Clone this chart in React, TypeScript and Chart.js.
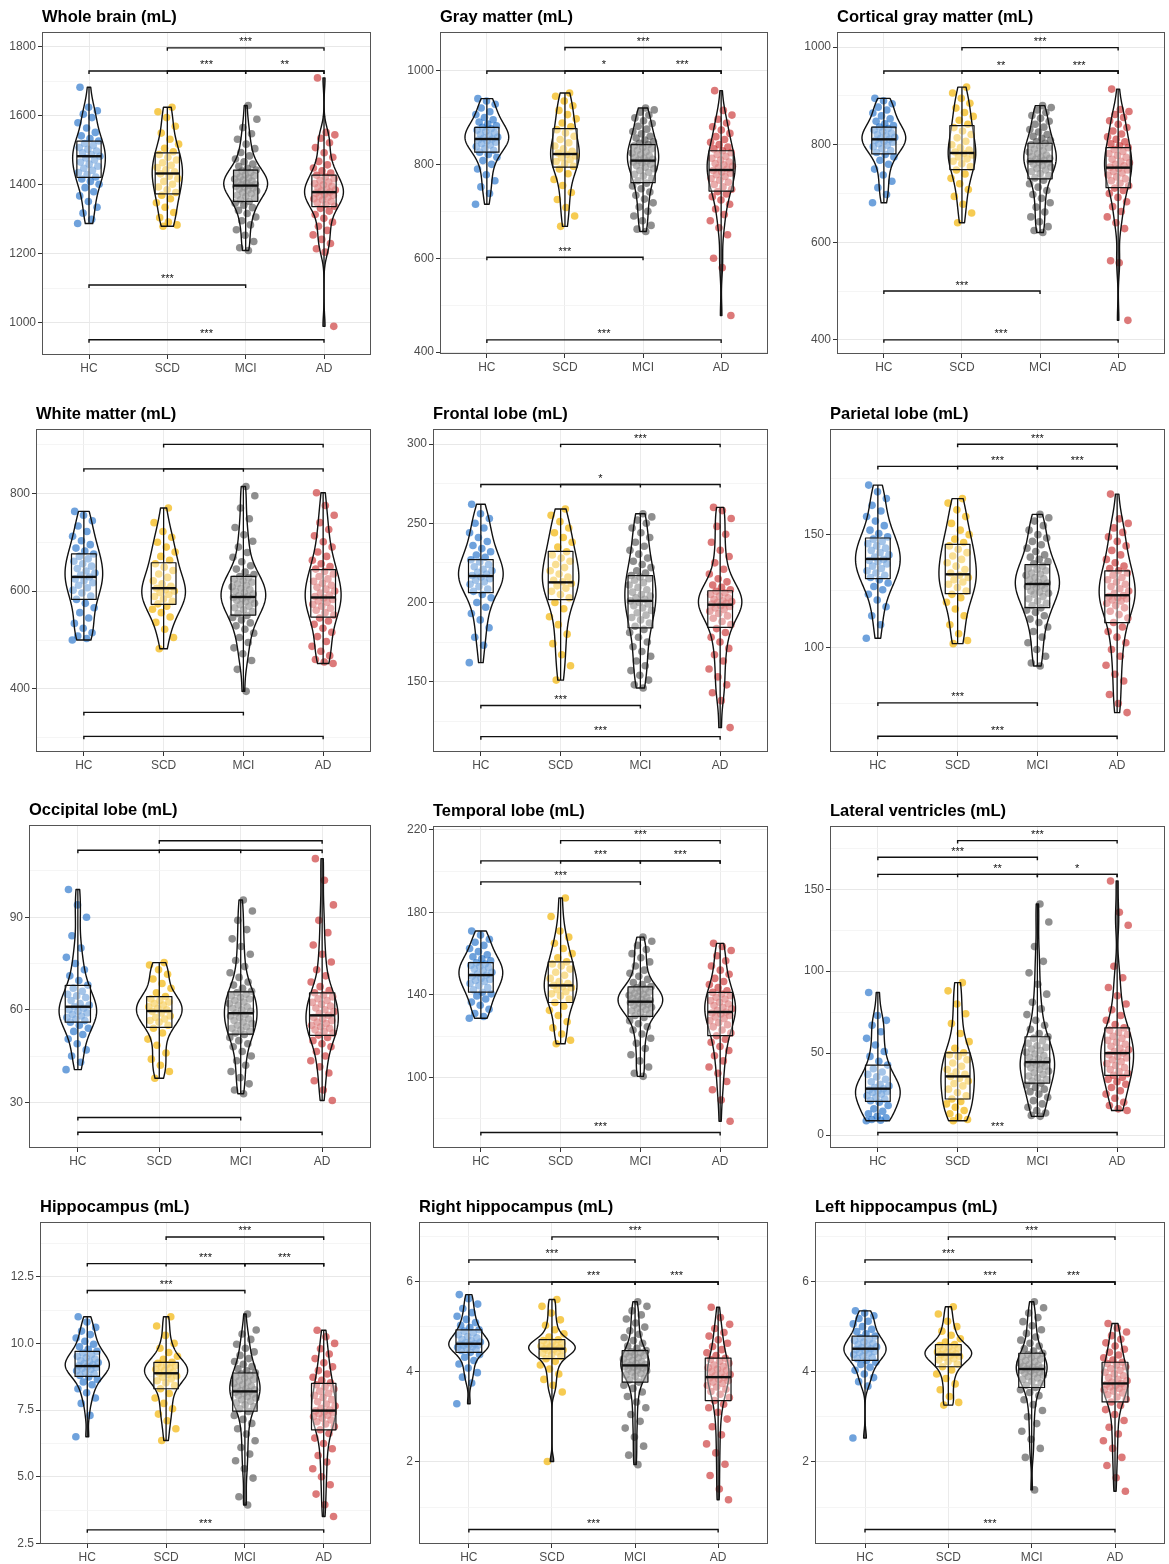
import React, { useEffect, useRef } from 'react';
import { Chart, registerables } from 'chart.js';

Chart.register(...registerables);

type Bracket = [number, number, number, string];

const groups = ['HC', 'SCD', 'MCI', 'AD'];
const groupColors = ['rgba(30,110,200,0.64)', 'rgba(242,178,0,0.68)', 'rgba(80,80,80,0.64)', 'rgba(200,45,45,0.64)'];

// ---------- Whole brain ----------
const wholeBrainValues = [
  [1288, 1300, 1318, 1335, 1352, 1368, 1380, 1392, 1402, 1410, 1417, 1423, 1430, 1436, 1442, 1448, 1454, 1460, 1466, 1472, 1478, 1483, 1488, 1493, 1498, 1503, 1508, 1514, 1520, 1527, 1534, 1542, 1552, 1565, 1580, 1595, 1605, 1615, 1625, 1683],
  [1280, 1284, 1292, 1305, 1320, 1335, 1348, 1360, 1370, 1378, 1386, 1394, 1402, 1410, 1418, 1425, 1432, 1438, 1444, 1450, 1457, 1464, 1472, 1480, 1488, 1496, 1506, 1518, 1532, 1550, 1570, 1595, 1612, 1625],
  [1210, 1218, 1236, 1254, 1270, 1284, 1296, 1307, 1317, 1326, 1334, 1341, 1347, 1352, 1357, 1362, 1366, 1370, 1374, 1378, 1382, 1385, 1388, 1391, 1394, 1396, 1398, 1400, 1402, 1405, 1408, 1411, 1414, 1417, 1420, 1423, 1426, 1429, 1432, 1436, 1440, 1443, 1448, 1454, 1460, 1467, 1475, 1484, 1494, 1505, 1518, 1532, 1548, 1566, 1590, 1630],
  [990, 1205, 1215, 1230, 1242, 1255, 1268, 1280, 1292, 1303, 1314, 1324, 1332, 1338, 1343, 1348, 1352, 1356, 1360, 1364, 1367, 1370, 1373, 1376, 1379, 1382, 1385, 1388, 1392, 1396, 1400, 1404, 1408, 1413, 1418, 1423, 1428, 1434, 1441, 1449, 1458, 1468, 1480, 1493, 1508, 1522, 1535, 1545, 1552, 1710],
];
const wholeBrainBoxes = [[1422, 1483, 1527], [1374, 1433, 1493], [1352, 1398, 1443], [1337, 1379, 1428]];
const wholeBrainBrackets: Bracket[] = [[2, 4, 1797, '***'], [1, 4, 1730, '***'], [3, 4, 1730, '**'], [2, 3, 1730, ''], [1, 3, 1110, '***'], [1, 4, 951, '***']];
const wholeBrainTicks = [1000, 1200, 1400, 1600, 1800];
const wholeBrainTickLabels = ['1000', '1200', '1400', '1600', '1800'];
const wholeBrainMinor = [1100, 1300, 1500, 1700];
const wholeBrainRange = [907, 1843];

// ---------- Gray matter ----------
const grayMatterValues = [
  [715, 738, 752, 765, 778, 790, 800, 808, 815, 821, 826, 830, 834, 838, 841, 844, 847, 850, 852, 854, 856, 858, 861, 864, 867, 870, 873, 876, 879, 882, 886, 890, 895, 900, 906, 912, 920, 928, 935, 940],
  [668, 690, 708, 725, 740, 755, 768, 780, 790, 796, 801, 806, 810, 814, 818, 821, 824, 828, 833, 839, 846, 853, 860, 867, 874, 880, 888, 897, 906, 915, 925, 935, 945, 952],
  [657, 662, 670, 680, 690, 700, 709, 718, 726, 734, 741, 748, 754, 760, 765, 770, 775, 779, 783, 787, 791, 794, 797, 800, 803, 805, 807, 809, 811, 813, 815, 818, 821, 824, 827, 830, 833, 836, 839, 842, 845, 848, 852, 856, 860, 865, 870, 875, 881, 887, 893, 899, 905, 911, 916, 920],
  [478, 580, 600, 650, 665, 680, 693, 705, 715, 724, 731, 737, 742, 747, 752, 757, 762, 766, 770, 774, 778, 781, 784, 787, 790, 793, 796, 799, 802, 805, 809, 813, 817, 821, 825, 829, 833, 837, 842, 847, 853, 859, 866, 873, 880, 888, 896, 905, 915, 957],
];
const grayMatterBoxes = [[826, 854, 879], [794, 822, 876], [761, 808, 842], [743, 788, 829]];
const grayMatterBrackets: Bracket[] = [[2, 4, 1049, '***'], [1, 4, 999, '*'], [3, 4, 999, '***'], [2, 3, 999, ''], [1, 3, 602, '***'], [1, 4, 426, '***']];
const grayMatterTicks = [400, 600, 800, 1000];
const grayMatterTickLabels = ['400', '600', '800', '1000'];
const grayMatterMinor = [500, 700, 900];
const grayMatterRange = [396, 1082];

// ---------- Cortical gray matter ----------
const corticalValues = [
  [681, 698, 712, 725, 738, 750, 760, 768, 775, 780, 784, 788, 792, 796, 799, 802, 805, 807, 809, 811, 813, 815, 818, 821, 824, 827, 830, 833, 836, 839, 843, 848, 853, 859, 865, 871, 877, 884, 890, 895],
  [640, 660, 678, 694, 708, 720, 731, 740, 748, 755, 761, 766, 771, 775, 779, 782, 785, 789, 794, 800, 807, 814, 821, 828, 835, 842, 850, 858, 866, 875, 885, 895, 906, 918],
  [620, 624, 632, 642, 652, 662, 672, 681, 690, 698, 706, 713, 720, 727, 732, 737, 741, 745, 748, 751, 754, 757, 760, 762, 764, 766, 768, 770, 772, 774, 776, 779, 782, 785, 788, 791, 794, 797, 800, 803, 806, 809, 813, 817, 821, 826, 831, 836, 842, 848, 854, 860, 866, 871, 876, 880],
  [440, 558, 562, 628, 640, 652, 663, 673, 683, 692, 700, 706, 711, 716, 721, 726, 730, 734, 738, 742, 745, 748, 751, 754, 757, 760, 763, 766, 770, 774, 778, 782, 786, 790, 794, 798, 802, 806, 811, 816, 822, 828, 835, 842, 849, 856, 862, 868, 872, 914],
];
const corticalBoxes = [[781, 811, 836], [749, 783, 839], [730, 766, 803], [712, 753, 794]];
const corticalBrackets: Bracket[] = [[2, 4, 999, '***'], [1, 4, 951, '**'], [3, 4, 951, '***'], [2, 3, 951, ''], [1, 3, 500, '***'], [1, 4, 400, '***']];
const corticalTicks = [400, 600, 800, 1000];
const corticalTickLabels = ['400', '600', '800', '1000'];
const corticalMinor = [500, 700, 900];
const corticalRange = [371, 1031];

// ---------- White matter ----------
const whiteMatterValues = [
  [500, 503, 508, 515, 524, 534, 545, 556, 566, 575, 583, 590, 596, 602, 607, 612, 617, 621, 625, 629, 633, 637, 641, 646, 651, 656, 661, 666, 671, 676, 682, 688, 695, 703, 712, 722, 733, 744, 755, 763],
  [482, 505, 522, 536, 547, 556, 563, 569, 574, 579, 584, 589, 593, 597, 600, 603, 606, 610, 615, 621, 628, 635, 642, 649, 656, 663, 671, 680, 690, 700, 710, 722, 740, 770],
  [395, 440, 458, 472, 484, 495, 505, 514, 522, 529, 535, 541, 546, 550, 554, 558, 562, 566, 569, 572, 575, 578, 581, 583, 585, 587, 589, 591, 594, 597, 600, 603, 606, 609, 612, 615, 618, 621, 624, 627, 630, 634, 639, 645, 652, 660, 669, 679, 690, 702, 715, 730, 748, 770, 795, 814],
  [452, 455, 460, 468, 477, 487, 497, 507, 516, 524, 532, 539, 545, 551, 556, 561, 565, 569, 573, 577, 580, 583, 586, 589, 592, 596, 600, 604, 608, 612, 616, 620, 625, 630, 635, 640, 645, 650, 656, 663, 671, 680, 690, 701, 713, 726, 740, 755, 775, 801],
];
const whiteMatterBoxes = [[583, 629, 676], [573, 606, 658], [551, 588, 630], [547, 587, 644]];
const whiteMatterBrackets: Bracket[] = [[2, 4, 900, ''], [1, 4, 850, ''], [2, 3, 850, ''], [1, 3, 352, ''], [1, 4, 303, '']];
const whiteMatterTicks = [400, 600, 800];
const whiteMatterTickLabels = ['400', '600', '800'];
const whiteMatterMinor = [300, 500, 700, 900];
const whiteMatterRange = [271, 931.5];

// ---------- Frontal lobe ----------
const frontalValues = [
  [162, 173, 178, 184, 189, 193, 197, 200, 203, 205, 207, 208.5, 210, 211.5, 213, 214, 215, 216, 217, 218, 219, 220, 221, 222.5, 224, 225.5, 227, 228.5, 230, 232, 234, 236, 238.5, 241, 244, 247, 250, 253, 256, 262],
  [151, 160, 167, 174, 180, 186, 191, 196, 200, 203, 205, 207, 209, 210.5, 212, 213, 214, 216, 218, 220, 222, 224, 226, 228, 230, 232, 235, 238, 241, 244, 247, 251, 255, 259],
  [146, 148, 151, 154, 157, 160, 163, 166, 169, 172, 175, 178, 181, 183, 185, 187, 189, 190.5, 192, 193.5, 195, 196.5, 198, 199, 200, 201, 202, 203, 204, 205, 206.5, 208, 209.5, 211, 212.5, 214, 215, 216, 217, 218.5, 220, 222, 224, 226, 228, 230.5, 233, 235.5, 238, 241, 244, 247, 250, 252, 254, 256],
  [121, 138, 143, 148, 153, 158, 163, 167, 171, 175, 178, 181, 183.5, 186, 188, 190, 191.5, 193, 194.5, 195.5, 196.5, 197.5, 198, 199, 199.5, 200, 200.5, 201, 202, 203, 204, 205, 206, 207, 208, 209.5, 211, 213, 215, 218, 221, 225, 229, 233, 238, 243, 248, 253, 258, 260],
];
const frontalBoxes = [[206.2, 216.7, 227], [201.8, 212.7, 232.3], [183.9, 201, 217], [184.3, 198.6, 207.4]];
const frontalBrackets: Bracket[] = [[2, 4, 299.8, '***'], [1, 4, 274.5, '*'], [2, 3, 274.5, ''], [1, 3, 135, '***'], [1, 4, 115.3, '***']];
const frontalTicks = [150, 200, 250, 300];
const frontalTickLabels = ['150', '200', '250', '300'];
const frontalMinor = [125, 175, 225, 275];
const frontalRange = [105.6, 309.5];

// ---------- Parietal lobe ----------
const parietalValues = [
  [104, 110, 114, 118, 121, 123.5, 125.5, 127, 128.5, 130, 131, 132, 133, 134, 135, 136, 137, 138, 138.5, 139, 140, 141, 142, 143, 144, 145, 146, 147, 148, 149, 150.5, 152, 154, 156, 158, 160.5, 163, 166, 169, 172],
  [101.6, 103, 106, 110, 114, 117, 120, 122, 123.5, 125, 126.5, 128, 129, 130, 131, 132, 133, 134.5, 136, 137.5, 139, 140.5, 142, 143.5, 145, 146.5, 148, 150, 152, 155, 158, 161, 164, 166],
  [91.7, 93, 96, 99, 102, 104.5, 107, 109, 111, 112.5, 114, 115.5, 116.5, 117.5, 118.5, 119.5, 120.5, 121.5, 122.5, 123.5, 124, 124.5, 125, 126, 126.5, 127, 127.5, 128, 128.5, 129, 130, 130.5, 131, 132, 132.5, 133, 134, 134.5, 135, 136, 137, 138, 139, 140, 141, 142.5, 144, 145.5, 147, 148.5, 150, 152, 154, 156, 157.5, 159],
  [71, 75, 79, 85, 88, 92, 96, 99, 102, 104.5, 107, 109, 111, 113, 114.5, 116, 117.5, 118.5, 119.5, 120.5, 121, 121.5, 122, 122.5, 123, 124, 125, 126, 127, 128, 129, 130, 131, 132, 133, 134, 135, 136, 137.5, 139, 141, 143, 145, 147, 149, 151, 153, 155, 157, 168],
];
const parietalBoxes = [[130.5, 139.2, 148.5], [123.8, 132.4, 145.7], [117.6, 128.1, 136.7], [110.9, 123.1, 133.9]];
const parietalBrackets: Bracket[] = [[2, 4, 190.1, '***'], [1, 4, 180.3, '***'], [3, 4, 180.3, '***'], [2, 3, 180.3, ''], [1, 3, 75.3, '***'], [1, 4, 60.5, '***']];
const parietalTicks = [100, 150];
const parietalTickLabels = ['100', '150'];
const parietalMinor = [75, 125, 175];
const parietalRange = [53.5, 196.9];

// ---------- Occipital lobe ----------
const occipitalValues = [
  [40.6, 43, 45, 47, 49, 50.5, 52, 53, 54, 55, 56, 56.5, 57, 57.5, 58, 58.5, 59, 59.5, 60, 60.5, 61, 61.5, 62, 63, 64, 64.5, 65, 66, 67, 68, 69.5, 71, 73, 75, 77, 80, 84, 90, 94, 99],
  [37.8, 40, 42, 44, 46, 48.5, 50.5, 52.5, 54, 55, 56, 56.5, 57, 57.5, 58, 59, 59.5, 60, 60.5, 61, 61.5, 62, 62.5, 63, 63.5, 64.3, 65.5, 67, 68.5, 70, 71.5, 73, 74.5, 75.3],
  [32.8, 34, 36, 38, 40, 42, 43.5, 45, 46.5, 48, 49, 50, 51, 52, 52.5, 53, 53.5, 54, 54.5, 55, 55.5, 56, 56.5, 57, 57.5, 58, 58.5, 59, 59.5, 60, 60.5, 61, 61.5, 62, 62.5, 63, 63.5, 64, 64.5, 65, 65.5, 66, 67, 68, 69, 70.5, 72, 74, 76, 78, 80.5, 83, 86, 89, 92, 95.6],
  [30.6, 34, 37, 39.5, 41.5, 43.5, 45, 46.5, 48, 49, 50, 51, 51.8, 52.5, 53, 53.5, 54, 54.5, 55, 55.5, 56, 56.5, 57, 57.5, 58.2, 58.8, 59.4, 60, 60.6, 61.2, 61.8, 62.4, 63, 63.6, 64.2, 64.8, 65.5, 66.2, 67.5, 69, 71, 73, 75.5, 78, 81, 85, 89, 94, 102, 109],
];
const occipitalBoxes = [[56, 61, 67.9], [54.3, 59.6, 64.3], [52.1, 58.9, 65.8], [51.7, 58.2, 65.5]];
const occipitalBrackets: Bracket[] = [[2, 4, 114.8, ''], [1, 4, 111.7, ''], [2, 3, 111.7, ''], [1, 3, 25.1, ''], [1, 4, 20.3, '']];
const occipitalTicks = [30, 60, 90];
const occipitalTickLabels = ['30', '60', '90'];
const occipitalMinor = [45, 75, 105];
const occipitalRange = [15.2, 119.9];

// ---------- Temporal lobe ----------
const temporalValues = [
  [128.7, 129.5, 131, 133, 135, 136.5, 138, 139.5, 140.5, 141.3, 142.5, 143.5, 144.5, 145.5, 146.5, 147, 147.5, 148, 149, 149.6, 150.2, 151, 151.8, 152.5, 153.2, 153.8, 154.4, 155, 155.6, 156.5, 157.5, 158.5, 159.5, 161, 162.5, 164, 165.5, 167, 169, 171],
  [116.3, 118, 121, 124, 127, 130, 132.5, 134.5, 136.3, 138, 139.5, 140.5, 141.5, 142.5, 143.5, 144, 144.6, 145.5, 146.5, 148, 149.5, 151, 152.5, 154, 155, 156, 158, 160, 162.5, 165, 168, 171, 178, 187],
  [100.5, 102, 105, 108, 111, 114, 116.5, 119, 121, 123, 124.5, 126, 127.5, 129, 130, 130.8, 131.5, 132.2, 132.8, 133.4, 134, 134.5, 135, 135.5, 136, 136.3, 136.6, 137, 137.4, 137.8, 138.3, 138.8, 139.3, 139.8, 140.3, 140.8, 141.3, 141.8, 142.3, 142.8, 143.4, 144, 145, 146, 147.5, 149, 150.5, 152, 154, 156, 158, 160, 162, 164, 166, 168],
  [78.7, 89, 94, 98, 102, 105, 108, 110.5, 113, 115, 117, 118.5, 120.2, 121.5, 123, 124.5, 125.5, 126.5, 127.5, 128.5, 129.3, 130, 130.7, 131.2, 131.7, 132.5, 133.3, 134, 134.8, 135.6, 136.4, 137.2, 138, 138.8, 139.6, 140.4, 141.2, 142, 143.5, 145, 146.5, 148, 150, 152, 154, 156.5, 159, 161.5, 163.5, 165],
];
const temporalBoxes = [[141.3, 149.6, 155.6], [136.3, 144.6, 156], [129.6, 136.7, 143.9], [120.2, 131.7, 141.2]];
const temporalBrackets: Bracket[] = [[2, 4, 214.8, '***'], [1, 4, 205, '***'], [3, 4, 205, '***'], [2, 3, 205, ''], [1, 3, 194.8, '***'], [1, 4, 73.3, '***']];
const temporalTicks = [100, 140, 180, 220];
const temporalTickLabels = ['100', '140', '180', '220'];
const temporalMinor = [80, 120, 160, 200];
const temporalRange = [65.75, 221.9];

// ---------- Lateral ventricles ----------
const ventriclesValues = [
  [8.7, 9, 9.5, 10.5, 11.5, 13, 14.5, 16, 18, 20, 21, 22, 23, 24, 25, 26, 26.5, 27, 27.5, 28.3, 29, 30, 31, 32.5, 34, 35.5, 37, 38.5, 40.5, 42.7, 45, 48, 51, 55, 59, 63, 67, 70, 73, 87],
  [8.7, 9.5, 11, 13, 15, 17, 19, 20.5, 22, 24, 26, 28, 30, 31.5, 33, 34.5, 35.8, 37, 38.5, 40, 42, 44, 46, 48, 49, 50.2, 53, 57, 62, 68, 74, 80, 88, 93],
  [11.4, 12, 13.5, 15, 17, 19, 21, 23, 25, 26.5, 28, 29, 30.5, 31.7, 33, 34, 35, 36, 37, 38, 39, 40, 41, 41.8, 42.6, 43.3, 44, 44.5, 45.5, 46.5, 47.5, 48.5, 49.5, 50.5, 51.5, 52.5, 53.5, 54.5, 56, 57.5, 59, 60, 62, 64.5, 67, 70, 73.5, 77, 81, 86, 92, 99, 106, 115, 130, 141],
  [15, 16, 18, 20, 22.5, 25, 27, 29, 31, 32.5, 34, 35.2, 36.4, 37.5, 38.8, 40, 41.2, 42.4, 43.6, 44.8, 46, 47, 48, 49, 50, 51, 52, 53, 54.2, 55.4, 56.6, 57.8, 59, 60.2, 61.4, 62.6, 64, 65.4, 67.5, 70, 73, 76.5, 80, 85, 90, 96, 103, 128, 136, 155],
];
const ventriclesBoxes = [[20.5, 28.3, 42.7], [22, 35.8, 50.2], [31.7, 44.5, 60], [36.4, 50, 65.4]];
const ventriclesBrackets: Bracket[] = [[2, 4, 179.7, '***'], [1, 3, 169.5, '***'], [1, 4, 159.1, '**'], [3, 4, 159.1, '*'], [2, 3, 159.1, ''], [1, 4, 1.6, '***']];
const ventriclesTicks = [0, 50, 100, 150];
const ventriclesTickLabels = ['0', '50', '100', '150'];
const ventriclesMinor = [25, 75, 125, 175];
const ventriclesRange = [-7.9, 188.6];

// ---------- Hippocampus ----------
const hippoValues = [
  [6.5, 7.3, 7.75, 7.95, 8.15, 8.3, 8.45, 8.55, 8.65, 8.74, 8.8, 8.86, 8.92, 8.97, 9.02, 9.06, 9.1, 9.13, 9.16, 9.2, 9.24, 9.28, 9.32, 9.36, 9.41, 9.46, 9.52, 9.58, 9.64, 9.7, 9.78, 9.87, 9.97, 10.08, 10.2, 10.33, 10.46, 10.6, 10.8, 11.0],
  [6.36, 6.8, 7.1, 7.35, 7.55, 7.75, 7.95, 8.12, 8.3, 8.42, 8.52, 8.6, 8.67, 8.73, 8.78, 8.83, 8.88, 8.93, 8.98, 9.03, 9.08, 9.12, 9.16, 9.2, 9.25, 9.29, 9.4, 9.52, 9.66, 9.82, 10.0, 10.3, 10.65, 11.0],
  [3.94, 4.25, 4.95, 5.3, 5.6, 5.85, 6.1, 6.35, 6.6, 6.8, 7.0, 7.15, 7.3, 7.45, 7.55, 7.63, 7.7, 7.77, 7.83, 7.89, 7.95, 8.0, 8.05, 8.09, 8.13, 8.16, 8.19, 8.22, 8.26, 8.3, 8.35, 8.4, 8.45, 8.5, 8.55, 8.6, 8.65, 8.7, 8.75, 8.8, 8.85, 8.9, 8.97, 9.05, 9.13, 9.22, 9.32, 9.43, 9.55, 9.68, 9.82, 9.97, 10.15, 10.35, 10.5, 11.1],
  [3.51, 3.95, 4.35, 4.7, 5.0, 5.3, 5.55, 5.8, 6.05, 6.25, 6.45, 6.62, 6.76, 6.88, 6.98, 7.06, 7.13, 7.2, 7.26, 7.31, 7.36, 7.4, 7.44, 7.47, 7.5, 7.57, 7.65, 7.73, 7.81, 7.89, 7.97, 8.05, 8.13, 8.21, 8.29, 8.37, 8.45, 8.52, 8.62, 8.73, 8.85, 8.98, 9.12, 9.27, 9.43, 9.6, 9.8, 10.0, 10.25, 10.49],
];
const hippoBoxes = [[8.76, 9.15, 9.7], [8.3, 8.88, 9.29], [7.46, 8.2, 8.89], [6.76, 7.48, 8.5]];
const hippoBrackets: Bracket[] = [[2, 4, 13.99, '***'], [1, 4, 12.99, '***'], [3, 4, 12.99, '***'], [2, 3, 12.99, ''], [1, 3, 11.98, '***'], [1, 4, 3.01, '***']];
const hippoTicks = [2.5, 5, 7.5, 10, 12.5];
const hippoTickLabels = ['2.5', '5.0', '7.5', '10.0', '12.5'];
const hippoMinor = [3.75, 6.25, 8.75, 11.25, 13.75];
const hippoRange = [2.48, 14.55];

// ---------- Right hippocampus ----------
const rightHippoValues = [
  [3.29, 3.75, 3.88, 3.98, 4.08, 4.17, 4.25, 4.32, 4.38, 4.43, 4.47, 4.5, 4.52, 4.54, 4.56, 4.58, 4.59, 4.6, 4.61, 4.62, 4.64, 4.66, 4.69, 4.72, 4.75, 4.78, 4.82, 4.86, 4.9, 4.93, 4.98, 5.03, 5.09, 5.16, 5.23, 5.31, 5.4, 5.5, 5.62, 5.71],
  [2.01, 3.55, 3.7, 3.83, 3.95, 4.06, 4.15, 4.23, 4.29, 4.34, 4.38, 4.41, 4.44, 4.46, 4.48, 4.5, 4.51, 4.53, 4.55, 4.57, 4.59, 4.61, 4.63, 4.66, 4.69, 4.71, 4.77, 4.84, 4.93, 5.03, 5.15, 5.3, 5.45, 5.6],
  [1.94, 2.15, 2.35, 2.55, 2.75, 2.9, 3.05, 3.2, 3.33, 3.45, 3.55, 3.63, 3.7, 3.77, 3.82, 3.86, 3.9, 3.93, 3.96, 3.99, 4.02, 4.04, 4.06, 4.08, 4.1, 4.11, 4.12, 4.14, 4.16, 4.18, 4.2, 4.22, 4.25, 4.28, 4.31, 4.34, 4.36, 4.38, 4.4, 4.42, 4.44, 4.47, 4.52, 4.57, 4.63, 4.69, 4.76, 4.83, 4.91, 4.99, 5.08, 5.17, 5.26, 5.35, 5.45, 5.55],
  [1.16, 1.4, 1.7, 1.95, 2.2, 2.4, 2.6, 2.78, 2.95, 3.1, 3.2, 3.28, 3.36, 3.43, 3.5, 3.56, 3.61, 3.66, 3.7, 3.74, 3.77, 3.8, 3.83, 3.86, 3.88, 3.91, 3.94, 3.97, 4.0, 4.03, 4.06, 4.09, 4.12, 4.15, 4.19, 4.23, 4.27, 4.3, 4.36, 4.42, 4.49, 4.56, 4.63, 4.71, 4.79, 4.87, 4.96, 5.05, 5.2, 5.43],
];
const rightHippoBoxes = [[4.43, 4.62, 4.93], [4.29, 4.51, 4.71], [3.77, 4.14, 4.47], [3.36, 3.88, 4.3]];
const rightHippoBrackets: Bracket[] = [[2, 4, 6.99, '***'], [1, 3, 6.48, '***'], [1, 4, 5.99, '***'], [3, 4, 5.99, '***'], [2, 3, 5.99, ''], [1, 4, 0.5, '***']];
const rightHippoTicks = [2, 4, 6];
const rightHippoTickLabels = ['2', '4', '6'];
const rightHippoMinor = [1, 3, 5, 7];
const rightHippoRange = [0.18, 7.32];

// ---------- Left hippocampus ----------
const leftHippoValues = [
  [2.53, 3.68, 3.78, 3.87, 3.95, 4.03, 4.1, 4.16, 4.21, 4.25, 4.29, 4.32, 4.35, 4.38, 4.41, 4.43, 4.45, 4.47, 4.49, 4.51, 4.53, 4.55, 4.57, 4.6, 4.63, 4.66, 4.69, 4.72, 4.75, 4.79, 4.84, 4.89, 4.94, 5.0, 5.06, 5.12, 5.18, 5.24, 5.3, 5.35],
  [3.26, 3.32, 3.45, 3.6, 3.73, 3.85, 3.95, 4.04, 4.11, 4.17, 4.22, 4.26, 4.29, 4.32, 4.34, 4.36, 4.38, 4.4, 4.42, 4.44, 4.46, 4.49, 4.52, 4.55, 4.58, 4.6, 4.66, 4.73, 4.81, 4.9, 5.0, 5.12, 5.28, 5.44],
  [1.38, 2.1, 2.3, 2.5, 2.68, 2.85, 3.0, 3.14, 3.27, 3.38, 3.47, 3.54, 3.6, 3.65, 3.7, 3.75, 3.79, 3.83, 3.86, 3.89, 3.92, 3.95, 3.97, 3.99, 4.01, 4.03, 4.05, 4.06, 4.08, 4.1, 4.12, 4.14, 4.16, 4.19, 4.22, 4.25, 4.28, 4.31, 4.34, 4.36, 4.38, 4.41, 4.46, 4.51, 4.57, 4.63, 4.7, 4.77, 4.85, 4.93, 5.02, 5.11, 5.2, 5.3, 5.42, 5.55],
  [1.35, 1.65, 1.92, 2.1, 2.3, 2.47, 2.62, 2.77, 2.92, 3.05, 3.16, 3.25, 3.33, 3.39, 3.44, 3.49, 3.53, 3.57, 3.6, 3.63, 3.66, 3.68, 3.7, 3.72, 3.74, 3.77, 3.8, 3.83, 3.87, 3.91, 3.95, 3.99, 4.03, 4.07, 4.11, 4.15, 4.18, 4.21, 4.26, 4.31, 4.37, 4.43, 4.5, 4.57, 4.64, 4.72, 4.8, 4.88, 4.97, 5.07],
];
const leftHippoBoxes = [[4.25, 4.51, 4.79], [4.11, 4.38, 4.6], [3.65, 4.06, 4.41], [3.33, 3.74, 4.21]];
const leftHippoBrackets: Bracket[] = [[2, 4, 6.99, '***'], [1, 3, 6.48, '***'], [1, 4, 5.99, '***'], [3, 4, 5.99, '***'], [2, 3, 5.99, ''], [1, 4, 0.5, '***']];
const leftHippoTicks = [2, 4, 6];
const leftHippoTickLabels = ['2', '4', '6'];
const leftHippoMinor = [1, 3, 5, 7];
const leftHippoRange = [0.18, 7.32];

const panels = [
  { title: 'Whole brain (mL)', values: wholeBrainValues, boxes: wholeBrainBoxes, brackets: wholeBrainBrackets, ticks: wholeBrainTicks, tickLabels: wholeBrainTickLabels, minor: wholeBrainMinor, range: wholeBrainRange },
  { title: 'Gray matter (mL)', values: grayMatterValues, boxes: grayMatterBoxes, brackets: grayMatterBrackets, ticks: grayMatterTicks, tickLabels: grayMatterTickLabels, minor: grayMatterMinor, range: grayMatterRange },
  { title: 'Cortical gray matter (mL)', values: corticalValues, boxes: corticalBoxes, brackets: corticalBrackets, ticks: corticalTicks, tickLabels: corticalTickLabels, minor: corticalMinor, range: corticalRange },
  { title: 'White matter (mL)', values: whiteMatterValues, boxes: whiteMatterBoxes, brackets: whiteMatterBrackets, ticks: whiteMatterTicks, tickLabels: whiteMatterTickLabels, minor: whiteMatterMinor, range: whiteMatterRange },
  { title: 'Frontal lobe (mL)', values: frontalValues, boxes: frontalBoxes, brackets: frontalBrackets, ticks: frontalTicks, tickLabels: frontalTickLabels, minor: frontalMinor, range: frontalRange },
  { title: 'Parietal lobe (mL)', values: parietalValues, boxes: parietalBoxes, brackets: parietalBrackets, ticks: parietalTicks, tickLabels: parietalTickLabels, minor: parietalMinor, range: parietalRange },
  { title: 'Occipital lobe (mL)', values: occipitalValues, boxes: occipitalBoxes, brackets: occipitalBrackets, ticks: occipitalTicks, tickLabels: occipitalTickLabels, minor: occipitalMinor, range: occipitalRange },
  { title: 'Temporal lobe (mL)', values: temporalValues, boxes: temporalBoxes, brackets: temporalBrackets, ticks: temporalTicks, tickLabels: temporalTickLabels, minor: temporalMinor, range: temporalRange },
  { title: 'Lateral ventricles (mL)', values: ventriclesValues, boxes: ventriclesBoxes, brackets: ventriclesBrackets, ticks: ventriclesTicks, tickLabels: ventriclesTickLabels, minor: ventriclesMinor, range: ventriclesRange },
  { title: 'Hippocampus (mL)', values: hippoValues, boxes: hippoBoxes, brackets: hippoBrackets, ticks: hippoTicks, tickLabels: hippoTickLabels, minor: hippoMinor, range: hippoRange },
  { title: 'Right hippocampus (mL)', values: rightHippoValues, boxes: rightHippoBoxes, brackets: rightHippoBrackets, ticks: rightHippoTicks, tickLabels: rightHippoTickLabels, minor: rightHippoMinor, range: rightHippoRange },
  { title: 'Left hippocampus (mL)', values: leftHippoValues, boxes: leftHippoBoxes, brackets: leftHippoBrackets, ticks: leftHippoTicks, tickLabels: leftHippoTickLabels, minor: leftHippoMinor, range: leftHippoRange },
];

// Layout: [cellLeft, plotLeft, plotTop, plotRight, plotBottom] in page pixels
const frames = [
  [0, 42, 32, 372, 355],
  [392, 440, 32, 769, 354],
  [788, 837, 32, 1166, 354],
  [0, 36, 429, 372, 752],
  [392, 433, 429, 769, 752],
  [788, 830, 429, 1166, 752],
  [0, 29, 825, 372, 1148],
  [392, 433, 826, 769, 1148],
  [788, 830, 826, 1166, 1148],
  [0, 40, 1222, 372, 1544],
  [392, 419, 1222, 769, 1544],
  [788, 815, 1222, 1166, 1544],
];

const FONT = '"Liberation Sans", Arial, Helvetica, sans-serif';
const VIOLIN_HALF = 0.28;
const BOX_HALF = 0.155;
const JITTER = 0.145;
const BW_ADJUST = 1.0;

function quantile(s: number[], p: number) {
  const h = (s.length - 1) * p;
  const lo = Math.floor(h);
  const hi = Math.min(lo + 1, s.length - 1);
  return s[lo] + (s[hi] - s[lo]) * (h - lo);
}

function density(values: number[]) {
  const s = [...values].sort((a, b) => a - b);
  const n = s.length;
  const mean = s.reduce((a, b) => a + b, 0) / n;
  const sd = Math.sqrt(s.reduce((a, b) => a + (b - mean) * (b - mean), 0) / (n - 1));
  const iqr = quantile(s, 0.75) - quantile(s, 0.25);
  const bw = 0.9 * Math.min(sd, iqr / 1.34) * Math.pow(n, -0.2) * BW_ADJUST;
  const lo = s[0];
  const hi = s[n - 1];
  const ys: number[] = [];
  const ds: number[] = [];
  const steps = 160;
  for (let i = 0; i <= steps; i++) {
    const y = lo + ((hi - lo) * i) / steps;
    let d = 0;
    for (const v of s) {
      const z = (y - v) / bw;
      d += Math.exp(-0.5 * z * z);
    }
    ys.push(y);
    ds.push(d / (n * bw * Math.sqrt(2 * Math.PI)));
  }
  return { ys, ds, lo, hi };
}

function Panel({ idx }: { idx: number }) {
  const ref = useRef<HTMLCanvasElement>(null);
  const p = panels[idx];
  const [cellLeft, L, T, R, B] = frames[idx];
  const padT = 34;
  const padR = 3;
  const xH = 24;
  const width = R - cellLeft + padR;
  const height = padT + (B - T) + xH;

  useEffect(() => {
    if (!ref.current) return;
    const dens = p.values.map((v) => density(v));
    const maxD = Math.max(...dens.map((d) => Math.max(...d.ds)));
    const majorSet = new Set(p.ticks);
    const allTicks = [...p.ticks, ...p.minor].sort((a, b) => a - b);

    const overlay = {
      id: 'violinOverlay' + idx,
      afterDatasetsDraw(chart: any) {
        const ctx = chart.ctx as CanvasRenderingContext2D;
        const xs = chart.scales.x;
        const ysc = chart.scales.y;
        const area = chart.chartArea;
        ctx.save();
        ctx.beginPath();
        ctx.rect(area.left, area.top, area.right - area.left, area.bottom - area.top);
        ctx.clip();
        ctx.strokeStyle = '#111';
        ctx.lineJoin = 'round';
        p.values.forEach((vals, gi) => {
          const gx = gi + 1;
          const d = dens[gi];
          ctx.lineWidth = 1.3;
          ctx.beginPath();
          ctx.moveTo(xs.getPixelForValue(gx), ysc.getPixelForValue(d.lo));
          ctx.lineTo(xs.getPixelForValue(gx), ysc.getPixelForValue(d.hi));
          ctx.stroke();
          ctx.lineWidth = 1.4;
          ctx.beginPath();
          for (let i = 0; i < d.ys.length; i++) {
            const w = (d.ds[i] / maxD) * VIOLIN_HALF;
            const px = xs.getPixelForValue(gx + w);
            const py = ysc.getPixelForValue(d.ys[i]);
            if (i === 0) ctx.moveTo(px, py);
            else ctx.lineTo(px, py);
          }
          for (let i = d.ys.length - 1; i >= 0; i--) {
            const w = (d.ds[i] / maxD) * VIOLIN_HALF;
            ctx.lineTo(xs.getPixelForValue(gx - w), ysc.getPixelForValue(d.ys[i]));
          }
          ctx.closePath();
          ctx.stroke();
          const [q1, med, q3] = p.boxes[gi];
          const bx0 = xs.getPixelForValue(gx - BOX_HALF);
          const bx1 = xs.getPixelForValue(gx + BOX_HALF);
          const by1 = ysc.getPixelForValue(q1);
          const by3 = ysc.getPixelForValue(q3);
          ctx.fillStyle = 'rgba(255,255,255,0.38)';
          ctx.fillRect(bx0, by3, bx1 - bx0, by1 - by3);
          ctx.lineWidth = 1.2;
          ctx.strokeRect(bx0, by3, bx1 - bx0, by1 - by3);
          ctx.lineWidth = 2.4;
          ctx.beginPath();
          const my = ysc.getPixelForValue(med);
          ctx.moveTo(bx0, my);
          ctx.lineTo(bx1, my);
          ctx.stroke();
        });
        ctx.restore();

        ctx.save();
        ctx.strokeStyle = '#111';
        ctx.fillStyle = '#111';
        ctx.lineWidth = 1.4;
        ctx.font = `11px ${FONT}`;
        ctx.textAlign = 'center';
        ctx.textBaseline = 'alphabetic';
        p.brackets.forEach(([g1, g2, yv, label]) => {
          const x1 = xs.getPixelForValue(g1);
          const x2 = xs.getPixelForValue(g2);
          const y = ysc.getPixelForValue(yv);
          ctx.beginPath();
          ctx.moveTo(x1, y + 3);
          ctx.lineTo(x1, y);
          ctx.lineTo(x2, y);
          ctx.lineTo(x2, y + 3);
          ctx.stroke();
          if (label) ctx.fillText(label, (x1 + x2) / 2, y - 2.5);
        });
        ctx.restore();
      },
      afterDraw(chart: any) {
        const ctx = chart.ctx as CanvasRenderingContext2D;
        const a = chart.chartArea;
        ctx.save();
        ctx.strokeStyle = '#555';
        ctx.lineWidth = 1;
        ctx.strokeRect(a.left + 0.5, a.top + 0.5, a.right - a.left - 1, a.bottom - a.top - 1);
        ctx.fillStyle = '#000';
        ctx.font = `bold 16.5px ${FONT}`;
        ctx.textAlign = 'left';
        ctx.textBaseline = 'alphabetic';
        ctx.fillText(p.title, a.left, a.top - 10.5);
        ctx.restore();
      },
    };

    const datasets = p.values.map((vals, gi) => ({
      label: groups[gi],
      data: vals.map((v, i) => ({
        x: gi + 1 + ((((i * 0.6180339887 + gi * 0.31) % 1) - 0.5) * 2 * JITTER),
        y: v,
      })),
      pointRadius: 3.8,
      pointBackgroundColor: groupColors[gi],
      pointBorderWidth: 0,
      pointBorderColor: 'rgba(0,0,0,0)',
      showLine: false,
    }));

    const chart = new Chart(ref.current, {
      type: 'scatter',
      data: { datasets },
      plugins: [overlay],
      options: {
        animation: false,
        responsive: false,
        maintainAspectRatio: false,
        devicePixelRatio: 1,
        events: [],
        layout: { padding: { left: 0, right: padR, top: padT, bottom: 0 } },
        plugins: { legend: { display: false }, tooltip: { enabled: false }, title: { display: false } },
        scales: {
          x: {
            type: 'linear',
            min: 0.4,
            max: 4.6,
            afterBuildTicks: (s: any) => {
              s.ticks = [1, 2, 3, 4].map((v) => ({ value: v }));
            },
            afterFit: (s: any) => {
              s.height = xH;
            },
            ticks: {
              callback: (v: any) => groups[Math.round(v) - 1] ?? '',
              color: '#4d4d4d',
              font: { size: 12, family: FONT },
              padding: 2,
              autoSkip: false,
              maxRotation: 0,
            },
            grid: { color: '#ebebeb', lineWidth: 1, tickLength: 4, tickColor: '#333', tickWidth: 1 },
            border: { display: false },
          },
          y: {
            type: 'linear',
            min: p.range[0],
            max: p.range[1],
            afterBuildTicks: (s: any) => {
              s.ticks = allTicks.map((v) => ({ value: v }));
            },
            afterFit: (s: any) => {
              s.width = L - cellLeft;
            },
            ticks: {
              callback: (v: any) => {
                const k = p.ticks.indexOf(v);
                return k >= 0 ? p.tickLabels[k] : '';
              },
              color: '#4d4d4d',
              font: { size: 12, family: FONT },
              padding: 2,
              autoSkip: false,
            },
            grid: {
              color: (c: any) => (c.tick && majorSet.has(c.tick.value) ? '#e8e8e8' : '#f3f3f3'),
              lineWidth: (c: any) => (c.tick && majorSet.has(c.tick.value) ? 1 : 0.8),
              tickLength: 4,
              tickColor: (c: any) => (c.tick && majorSet.has(c.tick.value) ? '#333' : 'rgba(0,0,0,0)'),
              tickWidth: 1,
            },
            border: { display: false },
          },
        },
      } as any,
    });
    return () => chart.destroy();
  }, []);

  return (
    <canvas
      ref={ref}
      width={width}
      height={height}
      style={{ position: 'absolute', left: cellLeft, top: T - padT, width, height }}
    />
  );
}

export default function App() {
  return (
    <div style={{ position: 'absolute', left: 0, top: 0, width: 1169, height: 1564, background: '#fff', overflow: 'hidden' }}>
      {panels.map((_, i) => (
        <Panel key={i} idx={i} />
      ))}
    </div>
  );
}
